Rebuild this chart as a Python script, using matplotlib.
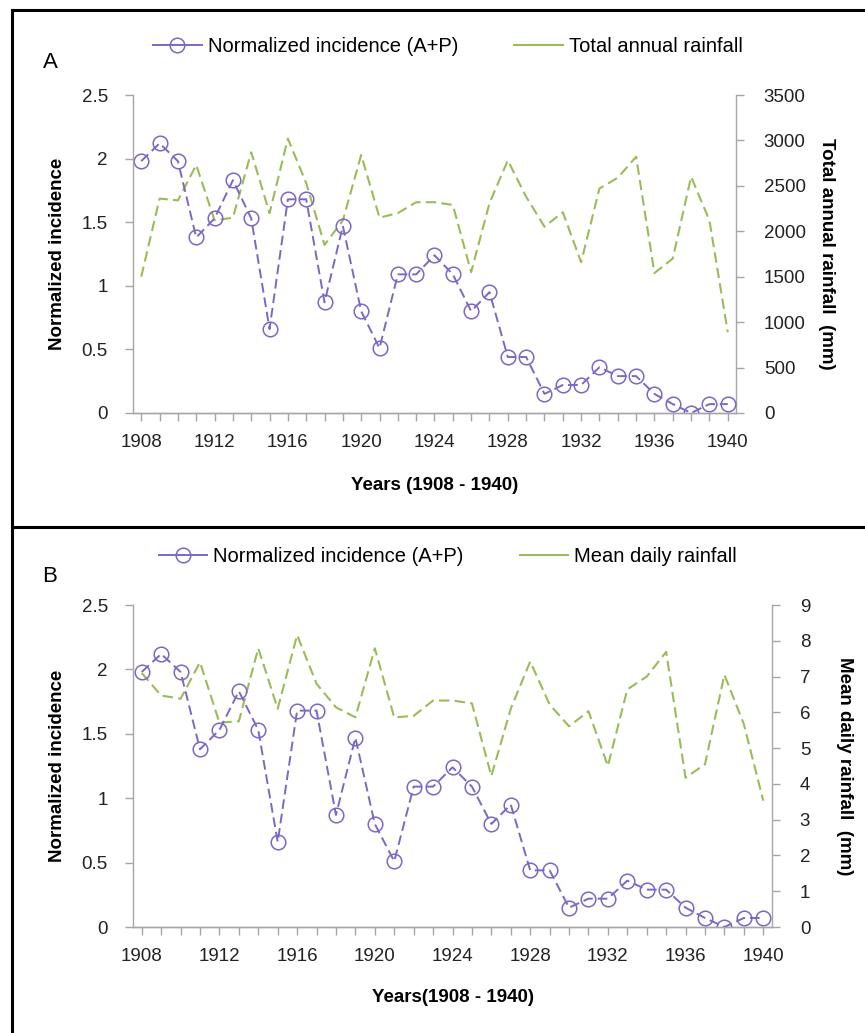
import matplotlib.pyplot as plt
from matplotlib.lines import Line2D

plt.rcParams['font.family'] = ['Liberation Sans', 'DejaVu Sans']

years = list(range(1908, 1941))

# normalized incidence (A+P), same series in both panels
incidence = [1.98, 2.12, 1.98, 1.38, 1.53, 1.83, 1.53, 0.66, 1.68, 1.68,
             0.87, 1.47, 0.80, 0.51, 1.09, 1.09, 1.24, 1.09, 0.80, 0.95,
             0.44, 0.44, 0.15, 0.22, 0.22, 0.36, 0.29, 0.29, 0.15, 0.07,
             0.00, 0.07, 0.07]

# total annual rainfall (mm)
total_rain = [1500, 2360, 2340, 2730, 2120, 2150, 2870, 2200, 3020, 2530,
              1850, 2120, 2840, 2150, 2200, 2320, 2320, 2290, 1550, 2310,
              2780, 2380, 2050, 2210, 1660, 2470, 2590, 2820, 1540, 1700,
              2600, 2120, 890]

# mean daily rainfall (mm)
daily_rain = [7.1, 6.47, 6.38, 7.4, 5.71, 5.75, 7.79, 6.1, 8.16, 6.8,
              6.14, 5.86, 7.79, 5.86, 5.9, 6.33, 6.33, 6.25, 4.22, 6.1,
              7.42, 6.22, 5.61, 6.03, 4.5, 6.64, 7.0, 7.69, 4.17, 4.55,
              7.05, 5.67, 3.53]

W, H = 865, 1033
PURPLE = '#7B68C4'
GREEN = '#9BBB59'
SPINE = '#A6A6A6'
TICK_FS = 13.5

fig = plt.figure(figsize=(W / 100, H / 100), dpi=100)


def px_rect(left, top, right, bottom):
    return [left / W, 1 - bottom / H, (right - left) / W, (bottom - top) / H]


def panel(rect, rain, rain_max, rain_step, rain_label, xlabel, letter,
          legend_y, letter_y, rain_name, xlabel_y, rlabel_x):
    ax = fig.add_axes(rect)
    ax2 = ax.twinx()
    ax.set_zorder(ax2.get_zorder() + 1)
    ax.patch.set_visible(False)

    ax2.plot(years, rain, color=GREEN, lw=1.5, ls=(0, (5, 2.5)))
    ax.plot(years, incidence, color=PURPLE, lw=1.4, ls=(0, (5, 2.5)),
            marker='o', ms=10.5, mfc='none', mec=PURPLE, mew=1.1)

    ax.set_xlim(1907.55, 1940.45)
    ax.set_ylim(0, 2.5)
    ax.set_yticks([0, 0.5, 1, 1.5, 2, 2.5])
    ax.set_yticklabels(['0', '0.5', '1', '1.5', '2', '2.5'])
    ax.set_xticks(range(1908, 1941, 4))
    ax.set_xticks(years, minor=True)
    ax2.set_ylim(0, rain_max)
    ax2.set_yticks(range(0, rain_max + 1, rain_step))

    for a in (ax, ax2):
        a.spines['top'].set_visible(False)
        for s in ('left', 'right', 'bottom'):
            a.spines[s].set_color(SPINE)
            a.spines[s].set_linewidth(1.0)
        a.tick_params(axis='both', which='both', colors=SPINE, labelcolor='#222222',
                      labelsize=TICK_FS, length=6, width=1)
    ax.spines['right'].set_visible(False)
    ax2.spines['left'].set_visible(False)
    ax.tick_params(axis='x', which='both', length=6, pad=9)
    ax.tick_params(axis='y', pad=12)
    ax2.tick_params(axis='y', pad=14)

    yc = rect[1] + rect[3] / 2
    xc = rect[0] + rect[2] / 2
    ax.set_ylabel('Normalized incidence', fontsize=13.5, fontweight='bold', va='center')
    ax.yaxis.set_label_coords(58 / W, yc, transform=fig.transFigure)
    ax2.set_ylabel(rain_label, fontsize=13.5, fontweight='bold', rotation=270, va='center')
    ax2.yaxis.set_label_coords(rlabel_x / W, yc, transform=fig.transFigure)
    ax.set_xlabel(xlabel, fontsize=13.5, fontweight='bold', va='center')
    ax.xaxis.set_label_coords(xc, 1 - xlabel_y / H, transform=fig.transFigure)

    handles = [Line2D([], [], color=PURPLE, lw=1.4, marker='o', ms=10.5, mfc='none', mew=1.1),
               Line2D([], [], color=GREEN, lw=1.5)]
    ax.legend(handles, ['Normalized incidence (A+P)', rain_name], loc='center',
              bbox_to_anchor=(448 / W, 1 - legend_y / H), bbox_transform=fig.transFigure,
              ncol=2, frameon=False, fontsize=14.5, columnspacing=2.8, handlelength=2.4,
              handletextpad=0.3)
    fig.text(50 / W, 1 - letter_y / H, letter, fontsize=16, ha='center', va='center')
    return ax, ax2


panel(px_rect(133, 95, 736, 413), total_rain, 3500, 500,
      'Total annual rainfall  (mm)', 'Years (1908 - 1940)', 'A', 47, 63,
      'Total annual rainfall', 486, 826)
panel(px_rect(133, 605, 772, 927), daily_rain, 9, 1,
      'Mean daily rainfall  (mm)', 'Years(1908 - 1940)', 'B', 557, 576,
      'Mean daily rainfall', 997, 845)

# panel frames
for seg in [((12, 865), (10, 10)), ((12, 865), (527, 527)), ((12, 12), (10, 1033))]:
    xs = [v / W for v in seg[0]]
    ys = [1 - v / H for v in seg[1]]
    fig.add_artist(Line2D(xs, ys, color='black', lw=2.2))

fig.savefig('out.png', dpi=100)
